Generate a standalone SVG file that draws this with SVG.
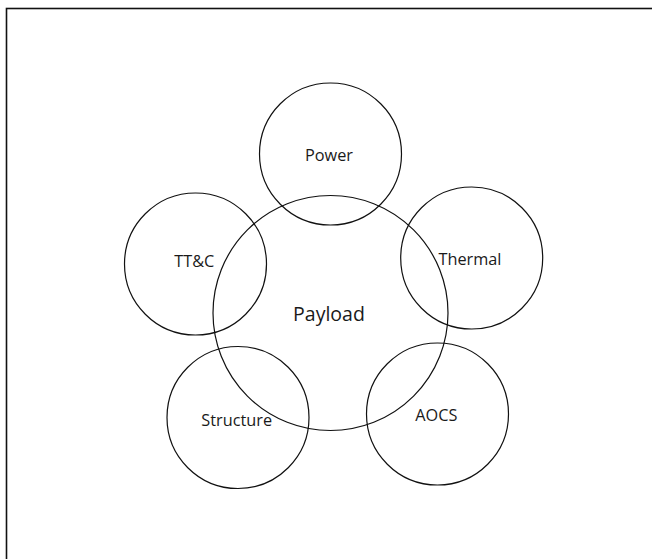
<svg xmlns="http://www.w3.org/2000/svg" width="652" height="559" viewBox="0 0 652 559">
<style>
.c{fill:none;stroke:#111;stroke-width:1.2}
.t{font-family:"Open Sans","DejaVu Sans",sans-serif;font-size:16.3px;fill:#1a1a1a;text-anchor:middle}
.p{font-size:19.5px}
</style>
<rect x="0" y="0" width="652" height="559" fill="#fff"/>
<rect x="6.5" y="8.5" width="700" height="600" fill="none" stroke="#111" stroke-width="1.6"/>
<g id="payload"><circle class="c" cx="330.5" cy="313" r="117.5"/><text class="t p" x="329" y="320.5">Payload</text></g>
<g id="power"><circle class="c" cx="330.5" cy="154" r="71"/><text class="t" x="329" y="161">Power</text></g>
<g id="ttc"><circle class="c" cx="195.5" cy="264" r="71"/><text class="t" x="194.3" y="266.5">TT&amp;C</text></g>
<g id="thermal"><circle class="c" cx="471.7" cy="258" r="71"/><text class="t" x="470" y="265">Thermal</text></g>
<g id="structure"><circle class="c" cx="238" cy="417.5" r="71"/><text class="t" x="236.7" y="426">Structure</text></g>
<g id="aocs"><circle class="c" cx="437.5" cy="414" r="71"/><text class="t" x="436.3" y="421">AOCS</text></g>
<g id="connectors"></g>
</svg>
